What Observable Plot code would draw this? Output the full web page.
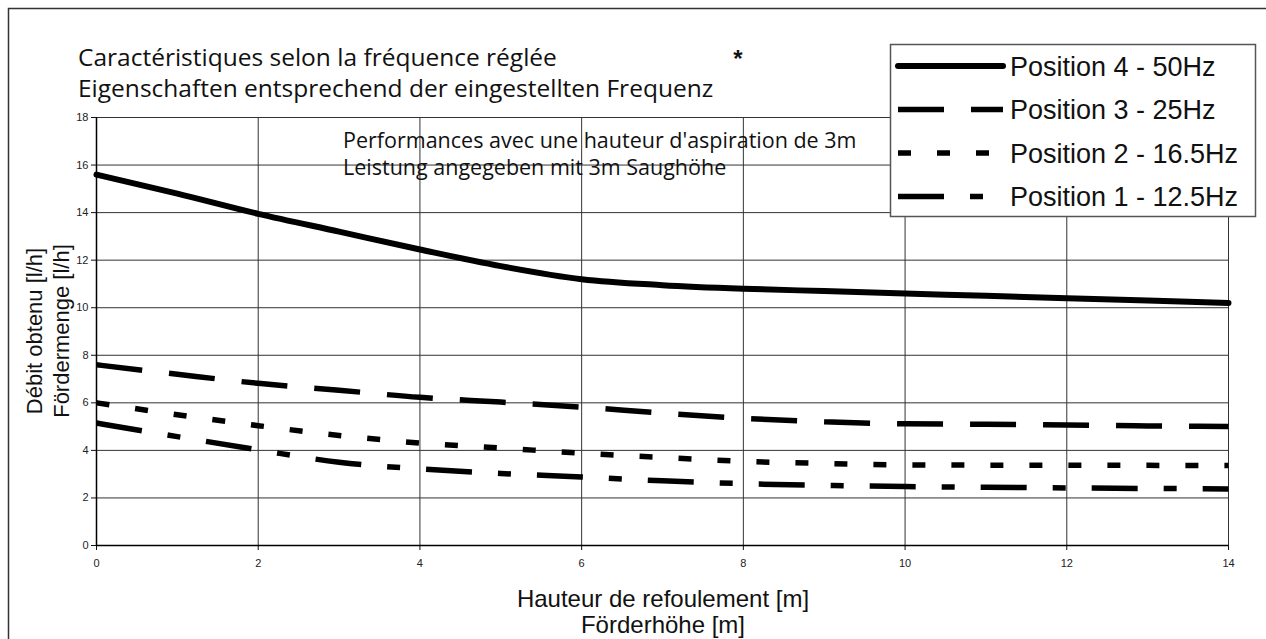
<!DOCTYPE html>
<html><head><meta charset="utf-8">
<script src="https://cdn.jsdelivr.net/npm/d3@7"></script>
<script src="https://cdn.jsdelivr.net/npm/@observablehq/plot@0.6"></script>
<style>html,body{margin:0;padding:0;background:#fff;overflow:hidden} svg{display:block}</style>
</head><body><div id="chart"></div>
<script>
// Hauteur de refoulement [m]
const hauteur = [0,1,2,3,4,5,6,7,8,9,10,11,12,13,14];
// Débit obtenu [l/h] per setting
const pos4 = [15.6,14.8,13.95,13.2,12.45,11.75,11.2,10.95,10.8,10.7,10.6,10.5,10.4,10.3,10.2];
const pos3 = [7.6,7.2,6.82,6.53,6.23,6.03,5.82,5.57,5.35,5.2,5.12,5.1,5.07,5.03,5.0];
const pos2 = [6.0,5.5,5.04,4.63,4.31,4.1,3.88,3.7,3.54,3.45,3.39,3.38,3.38,3.37,3.36];
const pos1 = [5.15,4.58,4.02,3.5,3.22,3.03,2.88,2.72,2.6,2.53,2.48,2.45,2.42,2.4,2.38];
const seriesNames = ["Position 4 - 50Hz","Position 3 - 25Hz","Position 2 - 16.5Hz","Position 1 - 12.5Hz"];
const xTicks = [0,2,4,6,8,10,12,14];
const yTicks = [0,2,4,6,8,10,12,14,16,18];
const titleLines = ["Caractéristiques selon la fréquence réglée","Eigenschaften entsprechend der eingestellten Frequenz"];
const noteLines = ["Performances avec une hauteur d'aspiration de 3m","Leistung angegeben mit 3m Saughöhe"];
const yLabelLines = ["Débit obtenu [l/h]","Fördermenge [l/h]"];
const xLabelLines = ["Hauteur de refoulement [m]","Förderhöhe [m]"];
const starText = "*";

const styles = [
  {dash: null, width: 6, cap: "round"},
  {dash: "46 27", width: 5.5, cap: "butt"},
  {dash: "13 26", width: 5.5, cap: "butt"},
  {dash: "46 26 13 26", width: 5.5, cap: "butt"}
];
const seriesValues = [pos4, pos3, pos2, pos1];
const rows = seriesNames.flatMap((name, k) => hauteur.map((h, i) => ({series: name, x: h, y: seriesValues[k][i]})));

const lineMarks = seriesNames.map((name, k) => Plot.line(rows.filter(d => d.series === name), {
  x: "x", y: "y", stroke: "black", strokeWidth: styles[k].width,
  strokeDasharray: styles[k].dash, strokeLinecap: styles[k].cap, strokeLinejoin: "round", curve: "monotone-x"
}));

const plot = Plot.plot({
  width: 1266, height: 639,
  marginTop: 117, marginRight: 38, marginBottom: 94, marginLeft: 96,
  x: {domain: [0, 14]},
  y: {domain: [0, 18]},
  style: {fontFamily: "'Liberation Sans', Arial, sans-serif", fontSize: "11px", color: "#222", background: "white", overflow: "visible"},
  marks: [
    Plot.ruleX(xTicks, {stroke: "#333", strokeWidth: 1}),
    Plot.ruleY(yTicks, {stroke: "#333", strokeWidth: 1}),
    Plot.axisX({ticks: xTicks, tickSize: 5, tickPadding: 9, label: null, tickFormat: d => String(d), stroke: "#111"}),
    Plot.axisY({ticks: yTicks, tickSize: 5, tickPadding: 3, label: null, tickFormat: d => String(d), stroke: "#111"}),
    Plot.ruleX([0], {stroke: "#000", strokeWidth: 1.5}),
    Plot.ruleY([0], {stroke: "#000", strokeWidth: 1.5}),
    ...lineMarks
  ]
});

document.getElementById("chart").appendChild(plot);
const svg = d3.select(plot);

// outer border
svg.append("rect").attr("x", 8.5).attr("y", 8.5).attr("width", 1300).attr("height", 700)
  .attr("fill", "none").attr("stroke", "#333").attr("stroke-width", 1.5);

const humanist = "'Open Sans', 'Noto Sans', sans-serif";
const arial = "'Liberation Sans', Arial, sans-serif";

// title
titleLines.forEach((t, i) => {
  svg.append("text").attr("x", 78).attr("y", 66 + i * 31).attr("text-anchor", "start").attr("font-family", humanist)
    .attr("font-size", 24.5).attr("fill", "#111").text(t);
});
svg.append("text").attr("x", 738).attr("y", 67).attr("text-anchor", "middle").attr("font-family", arial)
  .attr("font-size", 24).attr("font-weight", "bold").attr("fill", "#111").text(starText);

// note inside plot
noteLines.forEach((t, i) => {
  svg.append("text").attr("x", 343).attr("y", 148 + i * 27).attr("text-anchor", "start").attr("font-family", humanist)
    .attr("font-size", 21.5).attr("fill", "#111").text(t);
});

// y label
yLabelLines.forEach((t, i) => {
  svg.append("text").attr("transform", `translate(${42 + i * 27},331) rotate(-90)`)
    .attr("text-anchor", "middle").attr("font-family", arial).attr("font-size", 22).attr("fill", "#111").text(t);
});
// x label
xLabelLines.forEach((t, i) => {
  svg.append("text").attr("x", 663).attr("y", 607 + i * 26).attr("text-anchor", "middle")
    .attr("font-family", arial).attr("font-size", 24).attr("fill", "#111").text(t);
});

// legend
const lg = svg.append("g");
lg.append("rect").attr("x", 890.5).attr("y", 44.5).attr("width", 365).attr("height", 172)
  .attr("fill", "white").attr("stroke", "#555").attr("stroke-width", 1.5);
seriesNames.forEach((name, k) => {
  const cy = 66 + k * 43.5;
  lg.append("line").attr("x1", 898).attr("x2", 1003).attr("y1", cy).attr("y2", cy)
    .attr("stroke", "black").attr("stroke-width", styles[k].width)
    .attr("stroke-linecap", styles[k].cap)
    .attr("stroke-dasharray", styles[k].dash);
  lg.append("text").attr("x", 1010).attr("y", cy).attr("dy", "0.36em").attr("text-anchor", "start").attr("font-family", arial)
    .attr("font-size", 27).attr("fill", "#111").text(name);
});
</script></body></html>
